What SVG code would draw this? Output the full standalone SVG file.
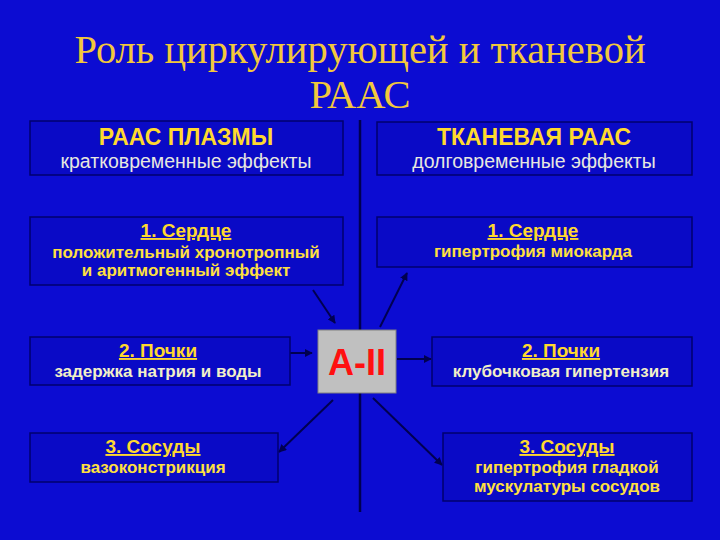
<svg xmlns="http://www.w3.org/2000/svg" width="720" height="540" viewBox="0 0 720 540">
<defs>
<style>
.bg{fill:#0c0cd2}
.box{fill:#0a0ac6;stroke:#00006e;stroke-width:1.5}
.title{font-family:"Liberation Serif","Times New Roman",serif;font-size:40.5px;fill:#f2c83c;text-anchor:middle}
.head{font-family:"Liberation Sans",Arial,sans-serif;font-size:23px;font-weight:bold;fill:#ffd92e;text-anchor:middle}
.sub{font-family:"Liberation Sans",Arial,sans-serif;font-size:19.5px;fill:#e8e8e0;text-anchor:middle}
.num{font-family:"Liberation Sans",Arial,sans-serif;font-size:19px;font-weight:bold;fill:#ffd92e;text-anchor:middle;text-decoration:underline}
.eff{font-family:"Liberation Sans",Arial,sans-serif;font-size:17px;font-weight:bold;fill:#ffe040;text-anchor:middle}
.pale{fill:#f2f0c8}
.ang{fill:#c0c0c0;stroke:#808080;stroke-width:1}
.aii{font-family:"Liberation Sans",Arial,sans-serif;font-size:36px;font-weight:bold;fill:#ff1010;text-anchor:middle}
.con{stroke:#000050;stroke-width:2.5;fill:none}
.arr{stroke:#000050;stroke-width:2;fill:none;marker-end:url(#ah)}
</style>
<marker id="ah" viewBox="0 0 10 10" refX="9" refY="5" markerWidth="4" markerHeight="4" orient="auto">
<path d="M0,0 L10,5 L0,10 z" fill="#000050"/>
</marker>
</defs>
<rect class="bg" x="0" y="0" width="720" height="540"/>
<g id="title">
<text class="title" x="360" y="63">Роль циркулирующей и тканевой</text>
<text class="title" x="360" y="108">РААС</text>
</g>
<g id="connectors">
<line class="con" x1="360" y1="120" x2="360" y2="512"/>
<line class="arr" x1="313" y1="290" x2="335" y2="323"/>
<line class="arr" x1="380" y1="327" x2="407" y2="273"/>
<line class="arr" x1="288" y1="353" x2="312" y2="353"/>
<line class="arr" x1="397" y1="359" x2="431" y2="359"/>
<line class="arr" x1="333" y1="400" x2="279" y2="452"/>
<line class="arr" x1="373" y1="398" x2="442" y2="465"/>
</g>
<g id="plasma">
<rect class="box" x="30" y="121" width="313" height="54"/>
<text class="head" x="186" y="145">РААС ПЛАЗМЫ</text>
<text class="sub" x="186" y="168">кратковременные эффекты</text>
</g>
<g id="tissue">
<rect class="box" x="377" y="122" width="315" height="53"/>
<text class="head" x="534" y="145">ТКАНЕВАЯ РААС</text>
<text class="sub" x="534" y="168">долговременные эффекты</text>
</g>
<g id="heart-left">
<rect class="box" x="30" y="217" width="313" height="68"/>
<text class="num" x="186" y="237">1. Сердце</text>
<text class="eff" x="186" y="258">положительный хронотропный</text>
<text class="eff" x="186" y="276">и аритмогенный эффект</text>
</g>
<g id="heart-right">
<rect class="box" x="377" y="217" width="315" height="50"/>
<text class="num" x="533" y="237">1. Сердце</text>
<text class="eff" x="533" y="257">гипертрофия миокарда</text>
</g>
<g id="kidney-left">
<rect class="box" x="30" y="337" width="260" height="48"/>
<text class="num" x="158" y="357">2. Почки</text>
<text class="eff pale" x="158" y="377">задержка натрия и воды</text>
</g>
<g id="vessels-left">
<rect class="box" x="30" y="433" width="248" height="49"/>
<text class="num" x="153" y="453">3. Сосуды</text>
<text class="eff" x="153" y="473">вазоконстрикция</text>
</g>
<g id="angiotensin">
<rect class="ang" x="318" y="330" width="78" height="63"/>
<text class="aii" x="357" y="375">А-II</text>
</g>
<g id="kidney-right">
<rect class="box" x="432" y="337" width="260" height="49"/>
<text class="num" x="561" y="357">2. Почки</text>
<text class="eff pale" x="561" y="377">клубочковая гипертензия</text>
</g>
<g id="vessels-right">
<rect class="box" x="443" y="433" width="249" height="68"/>
<text class="num" x="567" y="453">3. Сосуды</text>
<text class="eff" x="567" y="473">гипертрофия гладкой</text>
<text class="eff" x="567" y="492">мускулатуры сосудов</text>
</g>
</svg>
